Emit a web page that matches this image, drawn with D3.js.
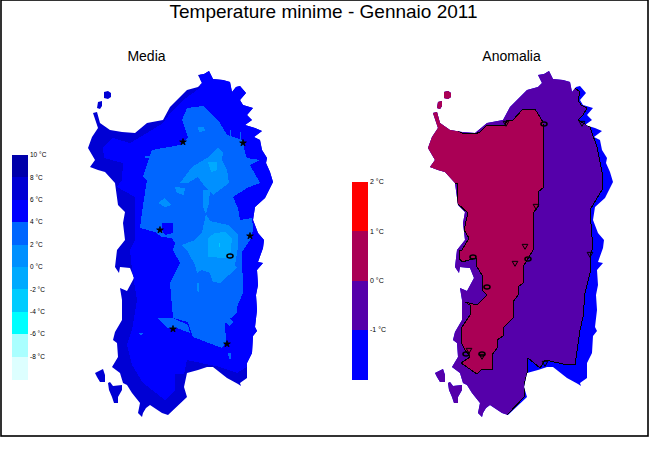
<!DOCTYPE html>
<html>
<head>
<meta charset="utf-8">
<script src="https://cdn.jsdelivr.net/npm/d3@7"></script>
<style>
  body { margin: 0; background: #fff; }
  text { font-family: "Liberation Sans", Arial, sans-serif; fill: #000; }
  .zone { shape-rendering: crispEdges; }
</style>
</head>
<body>
<script>
// Map outlines are in a grid (x 80-280, y 60-420)
var mainland = [[170,107],[182,95],[187,90],[198,87],[202,83],[198,75],[204,74],[209,71],[213,79],[223,80],[230,82],[232,92],[236,87],[240,86],[246,93],[240,100],[243,105],[253,108],[247,115],[252,120],[245,125],[255,128],[262,131],[254,137],[260,140],[262,150],[267,158],[266,163],[270,172],[273,182],[268,192],[265,198],[255,207],[253,220],[258,233],[264,240],[263,248],[258,262],[263,263],[257,270],[258,285],[256,295],[257,310],[255,327],[257,331],[253,336],[252,353],[247,363],[247,378],[240,383],[241,386],[238,384],[227,378],[213,367],[207,367],[198,370],[187,373],[184,387],[187,397],[168,415],[162,413],[150,405],[146,408],[143,413],[142,417],[138,413],[140,403],[132,393],[127,385],[123,383],[120,373],[112,367],[118,357],[117,343],[113,340],[115,332],[122,320],[122,300],[120,288],[127,291],[134,278],[130,268],[120,267],[119,273],[115,267],[117,250],[125,240],[123,223],[125,212],[118,205],[115,183],[105,172],[98,170],[90,167],[95,160],[88,148],[92,137],[98,128],[93,113],[97,112],[100,123],[110,130],[122,132],[135,133],[147,123],[163,120]];
var asinaraA = [[104,92],[108,91],[111,93],[111,97],[108,99],[104,98]];
var asinaraB = [[98,102],[102,101],[102,106],[100,109],[97,108]];
var sanPietro = [[95,373],[97,372],[103,369],[105,375],[105,382],[100,382],[97,377]];
var santAntioco = [[108,383],[110,382],[113,386],[122,385],[122,390],[118,397],[118,403],[114,403],[112,397],[109,390]];
var islands = [mainland, asinaraA, asinaraB, sanPietro, santAntioco];

// Media: temperature bands, painted warm coast to cold interior
var zone4to6 = [[113,138],[130,143],[147,133],[163,123],[170,113],[183,100],[200,88],[200,60],[280,60],[300,200],[270,340],[247,367],[237,373],[220,367],[187,360],[184,374],[175,374],[175,390],[165,400],[143,383],[132,365],[127,345],[132,330],[137,300],[132,270],[130,250],[135,240],[135,197],[117,187],[122,180],[123,163],[104,158],[103,147]];
var zone2to4 = [[187,108],[203,106],[220,123],[227,135],[243,140],[245,153],[247,158],[260,160],[250,165],[260,183],[247,188],[233,197],[238,208],[240,220],[252,218],[253,228],[252,237],[242,252],[243,293],[237,307],[237,313],[225,323],[226,342],[222,348],[193,337],[188,322],[173,318],[170,283],[180,263],[173,250],[175,243],[172,238],[162,237],[155,232],[140,228],[143,205],[147,180],[143,177],[152,150],[180,145],[188,137],[182,120]];
var patch2to4a = [[157,318],[173,318],[188,325],[190,333],[177,328],[168,328]];
var patch2to4b = [[225,322],[229,318],[233,322],[229,326]];
var patch2to4c = [[228,353],[231,353],[231,359],[229,359]];
var stripe2to4a = [[145,156],[152,156],[152,158],[145,158]];
var stripe2to4b = [[230,130],[231,130],[231,137],[230,137]];
var stripe2to4c = [[240,132],[241,132],[241,140],[240,140]];
var stripe2to4d = [[139,333],[143,333],[142,335],[140,335]];
var notch4to6 = [[162,223],[173,223],[173,233],[165,235],[162,230]];
var zone0to2 = [[180,183],[192,167],[207,158],[218,148],[223,152],[222,160],[227,170],[229,183],[213,195],[205,187],[198,177],[188,183]];
var zone0to2b = [[203,190],[210,190],[209,203],[206,214],[210,221],[228,225],[238,235],[238,247],[235,265],[237,268],[220,283],[213,282],[210,273],[202,270],[197,273],[195,265],[188,252],[182,245],[195,240],[202,232],[206,214],[203,207]];
var patch0to2a = [[198,127],[204,127],[205,131],[199,132]];
var patch0to2b = [[158,203],[165,198],[171,205],[165,207]];
var patch0to2c = [[175,187],[185,188],[184,195],[177,193]];
var patch0to2d = [[197,283],[199,283],[199,293],[197,290]];
var zoneM2to0 = [[208,162],[217,162],[217,170],[211,172]];
var zoneM2to0b = [[208,238],[215,233],[225,232],[232,238],[230,257],[225,258],[208,257]];
var tickM4toM2 = [[219,243],[220,243],[220,247],[219,247]];
var mediaZones = [
  { pts: zone4to6, level: 5 }, { pts: zone2to4, level: 3 }, { pts: patch2to4a, level: 3 },
  { pts: patch2to4b, level: 3 }, { pts: patch2to4c, level: 3 }, { pts: stripe2to4a, level: 3 },
  { pts: stripe2to4b, level: 3 }, { pts: stripe2to4c, level: 3 }, { pts: stripe2to4d, level: 3 },
  { pts: notch4to6, level: 5 }, { pts: zone0to2, level: 1 }, { pts: zone0to2b, level: 1 },
  { pts: patch0to2a, level: 1 }, { pts: patch0to2b, level: 1 }, { pts: patch0to2c, level: 1 },
  { pts: patch0to2d, level: 1 }, { pts: zoneM2to0, level: -1 }, { pts: zoneM2to0b, level: -1 },
  { pts: tickM4toM2, level: -3 }
];

// Anomalia: blue base, then -0..-1 and 0..1 classes with black contours
var anomNeg = [[200,60],[232,60],[235,88],[240,92],[238,100],[241,105],[247,108],[243,115],[238,120],[250,127],[257,147],[263,177],[262,190],[250,210],[252,237],[252,250],[250,257],[250,273],[245,293],[243,317],[240,330],[235,365],[223,364],[210,361],[205,360],[200,368],[188,358],[187,373],[184,385],[185,396],[168,414],[165,420],[80,420],[80,60]];
var anomPos = [[70,80],[113,80],[113,128],[122,133],[135,134],[140,132],[147,125],[165,125],[167,120],[173,120],[183,109],[195,109],[203,122],[204,187],[198,192],[198,207],[193,213],[193,250],[183,267],[183,283],[178,287],[178,295],[173,302],[173,318],[163,328],[163,336],[157,340],[157,348],[152,355],[152,369],[142,369],[137,374],[121,363],[130,357],[125,350],[121,342],[122,327],[130,315],[130,305],[125,302],[137,305],[147,295],[142,290],[142,275],[137,267],[136,258],[122,262],[119,258],[119,250],[122,250],[129,238],[124,230],[128,213],[117,203],[117,183],[70,183]];

// Station markers
var mediaStars = [[183,142],[243,143],[160,230],[250,236],[173,329],[227,344]];
var mediaRings = [[230,256]];
var anomRings = [[204,124],[133,257],[188,259],[147,287],[126,354],[142,354]];
var anomTriangles = [[166,123],[196,206],[185,246],[175,263],[129,350],[142,356],[205,363],[242,123],[250,254]];

// Legends
var mediaTicks = [10, 8, 6, 4, 2, 0, -2, -4, -6, -8];
var mediaColors = ["#0000aa", "#0000d4", "#0000ff", "#0066ff", "#0090ff", "#00aaff", "#00ccff", "#00ffff", "#aaffff", "#ddffff"];
var anomTicks = [2, 1, 0, -1];
var anomColors = ["#ff0000", "#aa0055", "#5500aa", "#0000ff"];

var width = 650, height = 450;

var svg = d3.select("body").append("svg")
    .attr("width", width)
    .attr("height", height)
    .style("display", "block");

// frame
svg.append("rect")
    .attr("x", 1).attr("y", 0)
    .attr("width", 647).attr("height", 436)
    .attr("fill", "#fff").attr("stroke", "#000").attr("stroke-width", 1.6);

svg.append("text")
    .attr("x", 323.5).attr("y", 18)
    .attr("text-anchor", "middle")
    .style("font-size", "19px")
    .text("Temperature minime - Gennaio 2011");

var y = d3.scaleLinear().domain([60, 420]).range([60, 420]);
var xMedia = d3.scaleLinear().domain([80, 280]).range([80, 280]);
var xAnom = d3.scaleLinear().domain([80, 280]).range([420, 620]);

var mediaColor = d3.scaleThreshold()
    .domain([-8, -6, -4, -2, 0, 2, 4, 6, 8])
    .range(mediaColors.slice().reverse());

function drawMap(name, x, title, titleX) {
  var line = d3.line().x(function(d) { return x(d[0]); }).y(function(d) { return y(d[1]); });
  var g = svg.append("g");

  var clip = svg.append("clipPath").attr("id", "clip-" + name);
  clip.selectAll("path").data(islands).enter().append("path")
      .attr("d", function(d) { return line(d) + "Z"; })
      .attr("shape-rendering", "crispEdges");

  g.append("text").attr("x", titleX).attr("y", 61)
      .attr("text-anchor", "middle").style("font-size", "14px").text(title);

  var zones = g.append("g").attr("clip-path", "url(#clip-" + name + ")");
  return { line: line, g: g, zones: zones };
}

function drawMarkers(g, x, pts, type, size, solid, rotate) {
  var sym = d3.symbol().type(type).size(size);
  g.selectAll(null).data(pts).enter().append("path")
      .attr("d", sym)
      .attr("transform", function(d) { return "translate(" + x(d[0]) + "," + y(d[1]) + ") rotate(" + rotate + ")"; })
      .attr("fill", solid ? "#000" : "none")
      .attr("stroke", "#000")
      .attr("stroke-width", solid ? 0.8 : 1);
}

function drawRings(g, x, pts) {
  g.selectAll(null).data(pts).enter().append("ellipse")
      .attr("cx", function(d) { return x(d[0]); })
      .attr("cy", function(d) { return y(d[1]); })
      .attr("rx", 3).attr("ry", 2)
      .attr("fill", "none").attr("stroke", "#000").attr("stroke-width", 1.6);
}

function drawLegend(ticks, colors, xPos, yTop, yBottom, fontSize) {
  var band = d3.scaleBand().domain(ticks).range([yTop, yBottom]);
  var g = svg.append("g");
  g.selectAll("rect").data(ticks).enter().append("rect")
      .attr("class", "zone")
      .attr("x", xPos).attr("width", 16)
      .attr("y", function(d) { return band(d); })
      .attr("height", band.bandwidth() + 0.5)
      .attr("fill", function(d, i) { return colors[i]; });
  g.selectAll("text").data(ticks).enter().append("text")
      .attr("x", xPos + 18)
      .attr("y", function(d) { return band(d); })
      .attr("dy", "0.35em")
      .style("font-size", fontSize + "px")
      .text(function(d) { return d + " \u00B0C"; });
}

// Media map
var media = drawMap("media", xMedia, "Media", 146.5);
media.zones.append("rect")
    .attr("x", xMedia(80)).attr("y", y(60))
    .attr("width", xMedia(280) - xMedia(80)).attr("height", y(420) - y(60))
    .attr("fill", mediaColor(7));
media.zones.selectAll("path").data(mediaZones).enter().append("path")
    .attr("class", "zone")
    .attr("d", function(d) { return media.line(d.pts) + "Z"; })
    .attr("fill", function(d) { return mediaColor(d.level); });
drawMarkers(media.g, xMedia, mediaStars, d3.symbolStar, 14, true, 0);
drawRings(media.g, xMedia, mediaRings);

// Anomalia map
var anom = drawMap("anom", xAnom, "Anomalia", 511.5);
anom.zones.append("rect")
    .attr("x", xAnom(80)).attr("y", y(60))
    .attr("width", xAnom(280) - xAnom(80)).attr("height", y(420) - y(60))
    .attr("fill", anomColors[3]);
anom.zones.append("path").attr("class", "zone")
    .attr("d", anom.line(anomNeg) + "Z")
    .attr("fill", anomColors[2]).attr("stroke", "#000").attr("stroke-width", 1);
anom.zones.append("path").attr("class", "zone")
    .attr("d", anom.line(anomPos) + "Z")
    .attr("fill", anomColors[1]).attr("stroke", "#000").attr("stroke-width", 1);
drawRings(anom.g, xAnom, anomRings);
drawMarkers(anom.g, xAnom, anomTriangles, d3.symbolTriangle, 14, false, 180);

drawLegend(mediaTicks, mediaColors, 12, 155, 379, 6.5);
drawLegend(anomTicks, anomColors, 352, 182, 379, 7);
</script>
</body>
</html>
